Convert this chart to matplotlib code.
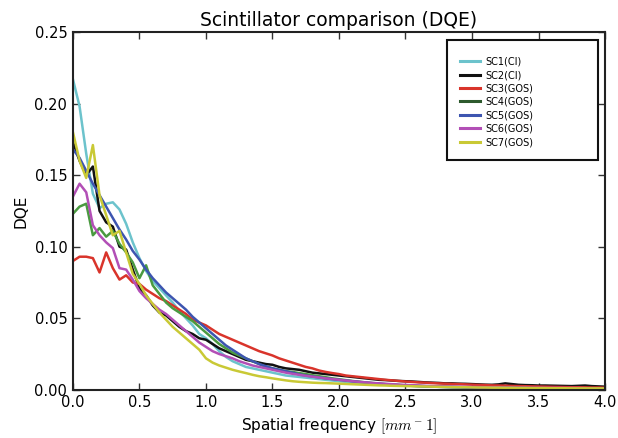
import numpy as np
import matplotlib
matplotlib.use("Agg")
import matplotlib.pyplot as plt
from matplotlib.patches import Rectangle

freq = np.linspace(0.0, 4.0, 81)

sc1 = [0.217, 0.198, 0.165, 0.137, 0.127, 0.130, 0.131, 0.126, 0.116, 0.103,
       0.092, 0.083, 0.076, 0.071, 0.066, 0.061, 0.055, 0.050, 0.045, 0.039,
       0.036, 0.032, 0.027, 0.023, 0.020, 0.018, 0.016, 0.015, 0.014, 0.013,
       0.012, 0.011, 0.010, 0.0095, 0.009, 0.0085, 0.008, 0.0075, 0.007, 0.0065,
       0.006, 0.0056, 0.0052, 0.0048, 0.0045, 0.0042, 0.0039, 0.0036, 0.0034, 0.0032,
       0.0030, 0.0028, 0.0026, 0.0025, 0.0023, 0.0022, 0.0021, 0.0020, 0.0019, 0.0018,
       0.0017, 0.0016, 0.0016, 0.0015, 0.0015, 0.0014, 0.0014, 0.0013, 0.0013, 0.0012,
       0.0012, 0.0012, 0.0011, 0.0011, 0.0011, 0.0010, 0.0010, 0.0010, 0.0010, 0.0009,
       0.0009]

sc2 = [0.173, 0.160, 0.150, 0.156, 0.125, 0.117, 0.114, 0.100, 0.098, 0.084,
       0.071, 0.066, 0.059, 0.054, 0.052, 0.048, 0.044, 0.041, 0.039, 0.036,
       0.035, 0.032, 0.029, 0.027, 0.025, 0.023, 0.021, 0.020, 0.019, 0.018,
       0.0175, 0.016, 0.015, 0.0145, 0.014, 0.013, 0.012, 0.0115, 0.011, 0.0105,
       0.010, 0.0095, 0.009, 0.0085, 0.008, 0.0075, 0.007, 0.0068, 0.0065, 0.0062,
       0.006, 0.0058, 0.0055, 0.0052, 0.005, 0.0048, 0.0045, 0.0045, 0.0043, 0.0042,
       0.004, 0.0038, 0.0036, 0.0035, 0.0038, 0.0045, 0.004, 0.0035, 0.0033, 0.0032,
       0.003, 0.003, 0.0029, 0.0028, 0.0027, 0.0026, 0.0028, 0.003, 0.0026, 0.0024,
       0.0022]

sc3 = [0.090, 0.093, 0.093, 0.092, 0.082, 0.096, 0.085, 0.077, 0.080, 0.075,
       0.074, 0.070, 0.067, 0.064, 0.062, 0.059, 0.056, 0.053, 0.049, 0.047,
       0.045, 0.042, 0.039, 0.037, 0.035, 0.033, 0.031, 0.029, 0.027, 0.0255,
       0.024, 0.022, 0.0205, 0.019, 0.0175, 0.016, 0.015, 0.0135, 0.0125, 0.0117,
       0.011, 0.010, 0.0095, 0.009, 0.0085, 0.008, 0.0075, 0.007, 0.0066, 0.0062,
       0.0058, 0.0055, 0.0052, 0.005, 0.0047, 0.0045, 0.0043, 0.0041, 0.004, 0.0038,
       0.0036, 0.0034, 0.0033, 0.0031, 0.003, 0.0029, 0.0027, 0.0026, 0.0025, 0.0024,
       0.0023, 0.0022, 0.0021, 0.002, 0.0019, 0.0018, 0.0018, 0.0017, 0.0016, 0.0016,
       0.0015]

sc4 = [0.123, 0.128, 0.130, 0.108, 0.113, 0.107, 0.111, 0.102, 0.096, 0.089,
       0.078, 0.087, 0.073, 0.067, 0.061, 0.057, 0.054, 0.051, 0.048, 0.044,
       0.040, 0.036, 0.032, 0.029, 0.026, 0.024, 0.022, 0.020, 0.018, 0.016,
       0.015, 0.014, 0.013, 0.0125, 0.0117, 0.011, 0.0102, 0.0095, 0.0088, 0.008,
       0.0074, 0.0068, 0.0062, 0.0057, 0.0052, 0.0048, 0.0044, 0.004, 0.0037, 0.0034,
       0.0031, 0.0029, 0.0027, 0.0025, 0.0023, 0.0021, 0.002, 0.0019, 0.0018, 0.0017,
       0.0016, 0.0015, 0.0015, 0.0014, 0.0014, 0.0013, 0.0013, 0.0012, 0.0012, 0.0011,
       0.0011, 0.0011, 0.001, 0.001, 0.001, 0.001, 0.0009, 0.0009, 0.0009, 0.0009,
       0.0009]

sc5 = [0.168, 0.162, 0.153, 0.144, 0.136, 0.128, 0.120, 0.112, 0.105, 0.097,
       0.091, 0.084, 0.078, 0.073, 0.068, 0.064, 0.060, 0.056, 0.051, 0.047,
       0.043, 0.039, 0.035, 0.031, 0.028, 0.025, 0.022, 0.020, 0.018, 0.0165,
       0.015, 0.014, 0.013, 0.012, 0.0108, 0.010, 0.0093, 0.0087, 0.008, 0.0075,
       0.007, 0.0065, 0.006, 0.0055, 0.005, 0.0046, 0.0042, 0.0039, 0.0036, 0.0033,
       0.003, 0.0028, 0.0026, 0.0024, 0.0022, 0.0021, 0.002, 0.0019, 0.0018, 0.0017,
       0.0016, 0.0015, 0.0015, 0.0014, 0.0014, 0.0013, 0.0013, 0.0012, 0.0012, 0.0011,
       0.0011, 0.0011, 0.001, 0.001, 0.001, 0.001, 0.0009, 0.0009, 0.0009, 0.0009,
       0.0009]

sc6 = [0.135, 0.144, 0.138, 0.115, 0.108, 0.103, 0.099, 0.085, 0.084, 0.077,
       0.069, 0.064, 0.060, 0.056, 0.053, 0.049, 0.045, 0.041, 0.037, 0.033,
       0.030, 0.027, 0.025, 0.0235, 0.022, 0.020, 0.0185, 0.017, 0.016, 0.015,
       0.014, 0.013, 0.012, 0.0112, 0.0105, 0.0098, 0.0092, 0.0086, 0.008, 0.0075,
       0.007, 0.0065, 0.006, 0.0056, 0.0052, 0.0048, 0.0045, 0.0042, 0.0039, 0.0036,
       0.0034, 0.0032, 0.003, 0.0028, 0.0026, 0.0025, 0.0024, 0.0023, 0.0022, 0.0021,
       0.002, 0.0019, 0.0018, 0.0018, 0.0017, 0.0016, 0.0016, 0.0015, 0.0015, 0.0014,
       0.0014, 0.0013, 0.0013, 0.0013, 0.0012, 0.0012, 0.0012, 0.0011, 0.0011, 0.0011,
       0.0011]

sc7 = [0.180, 0.160, 0.148, 0.171, 0.136, 0.122, 0.108, 0.111, 0.096, 0.081,
       0.074, 0.066, 0.060, 0.054, 0.049, 0.044, 0.040, 0.036, 0.032, 0.028,
       0.022, 0.019, 0.017, 0.0155, 0.014, 0.0128, 0.0117, 0.0105, 0.0095, 0.0088,
       0.008, 0.0073, 0.0066, 0.006, 0.0056, 0.0053, 0.005, 0.0048, 0.0047, 0.0045,
       0.0043, 0.0041, 0.0039, 0.0037, 0.0035, 0.0033, 0.0031, 0.003, 0.0028, 0.0027,
       0.0026, 0.0025, 0.0024, 0.0023, 0.0022, 0.0021, 0.002, 0.0019, 0.0018, 0.0018,
       0.0017, 0.0016, 0.0016, 0.0015, 0.0015, 0.0014, 0.0014, 0.0013, 0.0013, 0.0012,
       0.0012, 0.0012, 0.0011, 0.0011, 0.0011, 0.001, 0.001, 0.001, 0.001, 0.001,
       0.001]

labels = ["SC1(CI)", "SC2(CI)", "SC3(GOS)", "SC4(GOS)", "SC5(GOS)", "SC6(GOS)", "SC7(GOS)"]
series = [sc1, sc2, sc3, sc4, sc5, sc6, sc7]
colors = ["#6cc3cc", "#111111", "#d9342b", "#4a9a40", "#3d55b0", "#b24fb6", "#c9c935"]
legend_colors = ["#6cc3cc", "#111111", "#d9342b", "#2d5a2d", "#3d55b0", "#b24fb6", "#c9c935"]

plt.rcParams["mathtext.fontset"] = "cm"
fig = plt.figure(figsize=(6.18, 4.38), dpi=100)
ax = fig.add_axes([0.118, 0.110, 0.861, 0.817])

for y, c in zip(series, colors):
    ax.plot(freq, y, color=c, lw=1.8)

ax.set_xlim(0, 4)
ax.set_ylim(0, 0.25)
ax.set_xticks(np.arange(0, 4.01, 0.5))
ax.set_yticks(np.arange(0, 0.251, 0.05))
ax.set_xticklabels([f"{v:.1f}" for v in np.arange(0, 4.01, 0.5)])
ax.set_yticklabels([f"{v:.2f}" for v in np.arange(0, 0.251, 0.05)])
ax.tick_params(direction="in", top=True, right=True, length=5, width=1,
               labelsize=10.5, pad=4, color="#333333")
for s in ax.spines.values():
    s.set_linewidth(1.5)
    s.set_color("#222222")

ax.set_title("Scintillator comparison (DQE)", fontsize=13.5, pad=4)
ax.set_xlabel(r"Spatial frequency $[mm^-1]$", fontsize=11)
ax.set_ylabel("DQE", fontsize=11)

# legend frame and entries
ax.add_patch(Rectangle((0.703, 0.642), 0.284, 0.336, transform=ax.transAxes,
                       fill=True, facecolor="white", edgecolor="#111111",
                       lw=1.5, zorder=5))
handles = [plt.Line2D([], [], color=c, lw=2.2) for c in legend_colors]
leg = ax.legend(handles, labels, loc="upper left", bbox_to_anchor=(0.715, 0.95),
                frameon=False, fontsize=7, handlelength=2.0, handletextpad=0.6,
                labelspacing=0.35, borderpad=0.2)
leg.set_zorder(6)

fig.savefig("out.png", dpi=100)
